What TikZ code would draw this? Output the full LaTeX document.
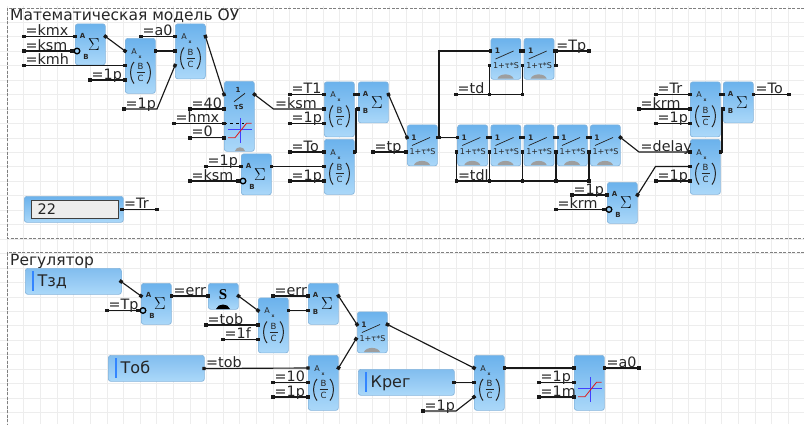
\documentclass[tikz,border=0pt]{standalone}
\usepackage{fontspec}
\setmainfont{DejaVu Sans}
\newfontfamily\serifS{Liberation Serif}
\usetikzlibrary{arrows.meta,calc}
\definecolor{gridc}{HTML}{EDEDED}
\definecolor{blktop}{HTML}{6BB2EC}
\definecolor{blkbot}{HTML}{ABD8F9}
\definecolor{blkedge}{HTML}{86B5DC}
\tikzset{
  x=1pt,y=-1pt,
  blk/.style={draw=blkedge,line width=.7pt,rounded corners=2.5pt,top color=blktop,bottom color=blkbot,anchor=north west,inner sep=0pt,minimum width=30pt},
  wire/.style={line width=1.15pt,draw=black!90,{Square[length=3.4pt,width=3.4pt]}-{Square[length=3.4pt,width=3.4pt]},shorten <=-1.7pt,shorten >=-1.7pt},
  lbl/.style={anchor=base west,inner sep=0pt,font=\fontsize{14.3}{14}\selectfont,text=black!85},
  ttl/.style={anchor=base west,inner sep=0pt,font=\fontsize{15.5}{16}\selectfont,text=black!85},
  pinA/.style={inner sep=0pt,font=\bfseries\fontsize{7}{7}\selectfont,text=black!85},
  swt/.style={inner sep=0pt,font=\fontsize{8}{8}\selectfont,text=black!85},
  frc/.style={inner sep=0pt,font=\fontsize{8.5}{9}\selectfont,text=black!85},
  inblk/.style={blk,top color=blktop!85!white,bottom color=blkbot},
  bar/.style={fill=blue!60!cyan!80!white,draw=none},
}
% Sum block: name,x,y,inverted(0/1)
\newcommand\SumBlk[4]{%
  \node[blk,minimum height=41pt] (#1) at (#2,#3) {};
  \coordinate (#1-a) at (#2,#3+13);
  \coordinate (#1-o) at (#2+30.5,#3+13);
  \node[pinA] (#1-ta) at (#2+7.7,#3+12) {A};
  \node[inner sep=0pt,font=\fontsize{16}{16}\selectfont] (#1-ts) at (#2+19,#3+21) {$\Sigma$};
  \ifnum#4=1
    \coordinate (#1-b) at (#2-3,#3+27.5);
    \node[pinA] (#1-tb) at (#2+11,#3+33) {B};
    \draw[line width=1.3pt,fill=blkbot!70!blktop] (#2+2,#3+27.5) circle (2.8pt);
  \else
    \coordinate (#1-b) at (#2,#3+27.5);
    \node[pinA] (#1-tb) at (#2+7.5,#3+29) {B};
  \fi}
% Divide block
\newcommand\DivBlk[3]{%
  \node[blk,minimum height=55pt] (#1) at (#2,#3) {};
  \coordinate (#1-a) at (#2,#3+13);
  \coordinate (#1-b) at (#2,#3+27.5);
  \coordinate (#1-c) at (#2,#3+42);
  \coordinate (#1-o) at (#2+30.5,#3+13);
  \node[pinA,font=\fontsize{8}{8}\selectfont] (#1-ta) at (#2+9,#3+13.5) {A};
  \node[pinA,font=\bfseries\fontsize{4.5}{5}\selectfont] (#1-tx) at (#2+15,#3+19) {x};
  \node[frc] (#1-tb) at (#2+15.5,#3+28.5) {B};
  \node[frc] (#1-tc) at (#2+15.5,#3+40.5) {C};
  \draw[line width=.6pt,black!85] (#2+11.5,#3+34.4) -- (#2+19.5,#3+34.4);
  \draw[line width=1pt,black!85] (#2+9,#3+24) .. controls (#2+4.5,#3+29) and (#2+4.5,#3+40) .. (#2+9,#3+45.5)
     (#2+22,#3+24) .. controls (#2+26.5,#3+29) and (#2+26.5,#3+40) .. (#2+22,#3+45.5);}
% Switch block
\newcommand\SwBlk[3]{%
  \node[blk,minimum height=41pt] (#1) at (#2,#3) {};
  \coordinate (#1-a) at (#2,#3+13);
  \coordinate (#1-b) at (#2-1,#3+27.5);
  \coordinate (#1-o) at (#2+30.5,#3+13);
  \node[pinA,font=\bfseries\fontsize{7.5}{7}\selectfont] (#1-t1) at (#2+7,#3+13) {1};
  \node[swt] (#1-tt) at (#2+15.5,#3+27.5) {1+τ*S};
  \draw[line width=.7pt,black!85] (#2+5,#3+21) -- (#2+23,#3+13);
  \fill[black!38] (#2+7,#3+40.5) .. controls (#2+9,#3+35) and (#2+21,#3+35) .. (#2+23,#3+40.5) -- cycle;}
% Limiter drawing
\newcommand\LimDraw[3]{%
  \draw[line width=.7pt,blue!75!white] (#1+4,#2+#3+6) -- (#1+28,#2+#3+6) (#1+16,#2+#3-5) -- (#1+16,#2+#3+20);
  \draw[line width=.8pt,red!85!black!90] (#1+4,#2+#3+14.4) -- (#1+11,#2+#3+14.4) -- (#1+22.5,#2+#3) -- (#1+27.5,#2+#3);}
% Input block: name,x,y,text
\newcommand\InBlk[4]{%
  \node[inblk,minimum width=96pt,minimum height=26pt] (#1) at (#2,#3) {};
  \coordinate (#1-o) at (#2+96,#3+13.5);
  \fill[bar] (#2+6.5,#3+3) rectangle (#2+9,#3+22.5);
  \node[lbl,font=\fontsize{16}{16}\selectfont] (#1-t) at (#2+12.5,#3+18.5) {#4};}
% Free wire into a pin, with label at free end
\newcommand\FW[5]{%
  \coordinate (#1-s) at (#2,#3);
  \draw[wire] (#1-s) -- (#4);
  \node[lbl] (#1) at ([xshift=1.5pt,yshift=1pt]#1-s) {#5};}
% Wire from a pin to a free end, label at pin
\newcommand\OW[5]{%
  \coordinate (#1-e) at (#3,#4);
  \draw[wire] (#2) -- (#1-e);
  \node[lbl] (#1) at ([xshift=2pt,yshift=1pt]#2) {#5};}
\begin{document}
\begin{tikzpicture}
\useasboundingbox (0,0) rectangle (804,424);
\fill[white] (0,0) rectangle (804,424);
% grid
\foreach \i in {0,...,47} \draw[gridc,line width=1pt] ({7.3+16.62*\i},6) -- ({7.3+16.62*\i},424);
\foreach \j in {1,...,28} \draw[gridc,line width=1pt] (0,{8+14.45*\j}) -- (804,{8+14.45*\j});
% frames
\draw[black!50,line width=.9pt,dash pattern=on 3pt off 1.5pt] (804,8) -- (7.3,8) -- (7.3,238.5) -- (804,238.5);
\draw[black!50,line width=.9pt,dash pattern=on 3pt off 1.5pt] (804,252.8) -- (7.3,252.8) -- (7.3,424);
\node[ttl] (title1) at (10,20.7) {Математическая модель ОУ};
\node[ttl] (title2) at (10,265) {Регулятор};

% --- upper blocks
\SumBlk{s1}{75}{23.5}{1}
\DivBlk{d1}{125}{38}
\DivBlk{d2}{175}{23.5}
% integrator
\node[blk,minimum height=70pt] (i1) at (224,81) {};
\coordinate (i1-a) at (224,94.5);
\coordinate (i1-b) at (224,109);
\coordinate (i1-c) at (224,123.4);
\coordinate (i1-d) at (224,137.8);
\coordinate (i1-o) at (254.5,94.5);
\node[pinA] (i1-t1) at (238,90) {1};
\draw[line width=.8pt,black!85] (234,101.7) -- (245,93.3);
\node[pinA] (i1-t2) at (239,107) {τS};
\LimDraw{224}{81}{42.3}
\fill[black!38] (235,151) .. controls (236,146) and (244,146) .. (245,151) -- cycle;
\draw[line width=.8pt,black,dashed] (i1-c) -- (244,123.4);

\SumBlk{s2}{241}{153.5}{1}
\DivBlk{d3}{324}{81.5}
\SumBlk{s3}{358}{81.5}{0}
\DivBlk{d4}{324}{139}
\SwBlk{sw0}{407}{124.5}
\SwBlk{sw1}{490.5}{38}
\SwBlk{sw2}{523.7}{38}
\SwBlk{sw3}{457.3}{124.5}
\SwBlk{sw4}{490.5}{124.5}
\SwBlk{sw5}{523.7}{124.5}
\SwBlk{sw6}{557}{124.5}
\SwBlk{sw7}{590}{124.5}
\DivBlk{d5}{690}{81.5}
\SumBlk{s5}{723}{81.5}{0}
\DivBlk{d6}{690}{139}
\SumBlk{s6}{607}{182}{1}
% constant box
\node[blk,minimum width=99pt,minimum height=26pt] (cbox) at (24,196) {};
\node[anchor=north west,draw=black!75,line width=1pt,fill=black!7,minimum width=87pt,minimum height=18pt,inner sep=0pt] (cin) at (31,200) {};
\node[lbl,font=\fontsize{14.5}{15}\selectfont] (cval) at (37.5,214) {22};
\coordinate (cbox-o) at (122,209.5);

% --- upper wires
\FW{lkmx}{24}{36.5}{s1-a}{=kmx}
\FW{lksm}{24}{51}{s1-b}{=ksm}
\FW{lkmh}{24}{65.5}{d1-b}{=kmh}
\draw[wire] (s1-o) -- (d1-a);
\FW{l1p1}{90}{80}{d1-c}{=1p}
\draw[wire] (d1-o) -- (d2-b);
\FW{la0}{141}{36.5}{d2-a}{=a0}
\coordinate (k1) at (157,109);
\coordinate (k1s) at (124,109);
\draw[wire] (k1s) -- (k1) -- (d2-c);
\node[lbl] (l1p2) at ([xshift=1.5pt,yshift=1pt]k1s) {=1p};
\draw[wire] (d2-o) -- (i1-a);
\FW{l40}{190}{109}{i1-b}{=40}
\FW{lhmx}{174}{123.4}{i1-c}{=hmx}
\FW{l0}{190}{137.8}{i1-d}{=0}
\coordinate (k2) at (273.5,109);
\draw[wire] (i1-o) -- (k2) -- (d3-b);
\node[lbl] (lksm2) at ([xshift=1.5pt,yshift=1pt]k2) {=ksm};
\FW{l1p3}{206}{166.5}{s2-a}{=1p}
\FW{lksm3}{190}{181}{s2-b}{=ksm}
\draw[wire] (s2-o) -- (d4-b);
\FW{lT1}{290}{94.5}{d3-a}{=T1}
\FW{l1p4}{290}{123.5}{d3-c}{=1p}
\FW{lTo}{290}{152}{d4-a}{=To}
\FW{l1p5}{290}{181}{d4-c}{=1p}
\draw[wire] (d3-o) -- (s3-a);
\coordinate (k3) at (356,152);
\coordinate (k4) at (356,109);
\draw[wire] (d4-o) -- (k3) -- (k4) -- (s3-b);
\draw[wire] (s3-o) -- (sw0-a);
\FW{ltp}{373}{152}{sw0-b}{=tp}
\coordinate (k5) at (439,137.5);
\coordinate (k6) at (439,51);
\draw[wire] (sw0-o) -- (sw3-a);
\draw[wire] (k5) -- (k6) -- (sw1-a);
\draw[wire] (sw1-o) -- (sw2-a);
\OW{lTp}{sw2-o}{589}{51}{=Tp}
\coordinate (k7) at (555.8,51);
\coordinate (k8) at (555.8,65.5);
\draw[wire] (k7) -- (k8);
% td
\coordinate (td1) at (489.5,94.5);
\coordinate (td2) at (522.7,94.5);
\FW{ltd}{456}{94.5}{td2}{=td}
\draw[wire] (sw1-b) -- (td1);
\draw[wire] (sw2-b) -- (td2);
% tdl bus
\draw[wire] (sw3-o) -- (sw4-a);
\draw[wire] (sw4-o) -- (sw5-a);
\draw[wire] (sw5-o) -- (sw6-a);
\draw[wire] (sw6-o) -- (sw7-a);
\coordinate (b3) at (456.3,181);
\coordinate (b4) at (489.5,181);
\coordinate (b5) at (522.7,181);
\coordinate (b6) at (556,181);
\coordinate (b7) at (589,181);
\draw[wire] (b3) -- (b7);
\node[lbl] (ltdl) at ([xshift=1.5pt,yshift=1pt]b3) {=tdl};
\draw[wire] (sw3-b) -- (b3);
\draw[wire] (sw4-b) -- (b4);
\draw[wire] (sw5-b) -- (b5);
\draw[wire] (sw6-b) -- (b6);
\draw[wire] (sw7-b) -- (b7);
\coordinate (k9) at (639,152);
\draw[wire] (sw7-o) -- (k9) -- (d6-a);
\node[lbl] (ldelay) at ([xshift=1.5pt,yshift=1pt]k9) {=delay};
\FW{lTr}{656}{94.5}{d5-a}{=Tr}
\FW{lkrm}{639}{109}{d5-b}{=krm}
\FW{l1p6}{656}{123.5}{d5-c}{=1p}
\draw[wire] (d5-o) -- (s5-a);
\OW{lTo2}{s5-o}{789}{94.5}{=To}
\coordinate (k10) at (722,152);
\coordinate (k11) at (722,109);
\draw[wire] (d6-o) -- (k10) -- (k11) -- (s5-b);
\FW{l1p7}{656}{181}{d6-c}{=1p}
\coordinate (k12) at (655.5,166.5);
\draw[wire] (s6-o) -- (k12) -- (d6-b);
\FW{l1p8}{572}{195}{s6-a}{=1p}
\FW{lkrm2}{556}{209.5}{s6-b}{=krm}
\OW{lTr2}{cbox-o}{157}{209.5}{=Tr}

% --- lower blocks
\InBlk{tz}{25}{268}{Тзд}
\SumBlk{s7}{141}{283}{1}
\node[blk,minimum height=26pt] (sb) at (208,283) {};
\coordinate (sb-a) at (208,296);
\coordinate (sb-o) at (238.5,296);
\node[inner sep=0pt,font=\serifS\bfseries\fontsize{15}{15}\selectfont] (sb-t) at (223,294.5) {S};
\fill[black] (216,309) .. controls (218,303) and (228,303) .. (230,309) -- cycle;
\DivBlk{d7}{258}{297.5}
\SumBlk{s8}{308}{283}{0}
\InBlk{tb}{108}{355}{Тоб}
\DivBlk{d8}{308}{355}
\SwBlk{sw8}{357}{311.5}
\InBlk{kr}{358}{369}{Крег}
\DivBlk{d9}{474}{355}
\node[blk,minimum height=55pt] (lim) at (574,355) {};
\coordinate (lim-a) at (574,368);
\coordinate (lim-b) at (574,382.5);
\coordinate (lim-c) at (574,397);
\coordinate (lim-o) at (604.5,368);
\LimDraw{574}{355}{27.3}

% --- lower wires
\draw[wire] (tz-o) -- (s7-a);
\FW{lTp2}{107}{310.5}{s7-b}{=Tp}
\OW{lerr}{s7-o}{208}{296}{=err}
\draw[wire] (sb-o) -- (d7-a);
\FW{ltob}{206}{325}{d7-b}{=tob}
\FW{l1f}{223}{339.5}{d7-c}{=1f}
\FW{lerr2}{273}{296}{s8-a}{=err}
\draw[wire] (d7-o) -- (s8-b);
\OW{ltob2}{tb-o}{308}{368}{=tob}
\FW{l10}{273}{382.5}{d8-b}{=10}
\FW{l1p9}{273}{397}{d8-c}{=1p}
\draw[wire] (s8-o) -- (sw8-a);
\draw[wire] (d8-o) -- (sw8-b);
\draw[wire] (sw8-o) -- (d9-a);
\draw[wire] (kr-o) -- (d9-b);
\coordinate (k13) at (456,411);
\coordinate (k13s) at (423,411);
\draw[wire] (k13s) -- (k13) -- (d9-c);
\node[lbl] (l1p10) at ([xshift=1.5pt,yshift=1pt]k13s) {=1p};
\draw[wire] (d9-o) -- (lim-a);
\FW{l1p11}{539}{382.5}{lim-b}{=1p}
\FW{l1m}{539}{397}{lim-c}{=1m}
\OW{la02}{lim-o}{639}{368}{=a0}
\end{tikzpicture}
\end{document}
